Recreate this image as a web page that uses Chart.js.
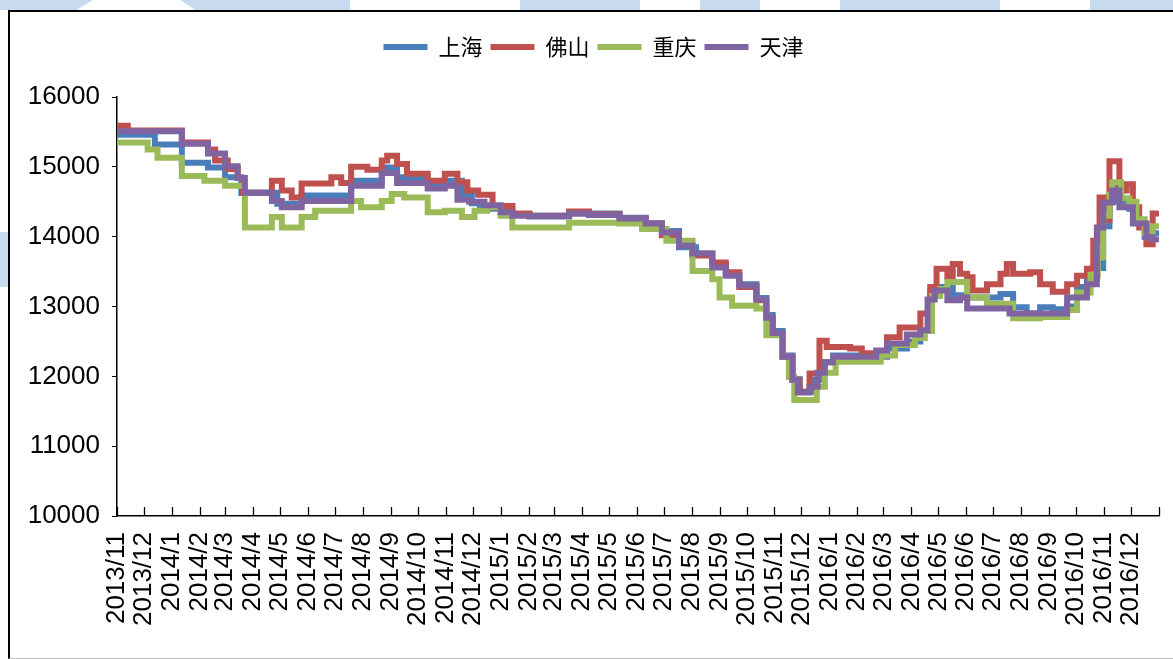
<!DOCTYPE html>
<html>
  <head>
    <meta charset="UTF-8">
    <style>
      body { margin: 0; background: #fff; }
      #page { position: relative; width: 1173px; height: 659px; overflow: hidden; background: #fff; }
      .wm { position: absolute; background: #c8daf0; }
      #frame { position: absolute; left: 8px; top: 10px; width: 1180px; height: 646px;
               border-left: 2px solid #000; border-top: 2px solid #000; border-bottom: 1px solid #bbb; background: #fff; }
      #wrap { position: absolute; left: 0; top: 0; width: 1173px; height: 659px; }
    </style>
  </head>
  <body>
    <div id="page">
      <div class="wm" style="left:0;top:0;width:93px;height:10px;clip-path:polygon(0 0,100% 0,82% 100%,0 100%)"></div>
      <div class="wm" style="left:180px;top:0;width:170px;height:10px;clip-path:polygon(0 0,100% 0,100% 100%,9% 100%)"></div>
      <div class="wm" style="left:520px;top:0;width:120px;height:10px"></div>
      <div class="wm" style="left:700px;top:0;width:60px;height:10px"></div>
      <div class="wm" style="left:840px;top:0;width:160px;height:10px"></div>
      <div class="wm" style="left:1090px;top:0;width:83px;height:10px"></div>
      <div class="wm" style="left:0;top:232px;width:10px;height:55px"></div>
      <div id="frame"></div>
      <div id="wrap"><canvas id="chart"></canvas></div>
    </div>

    <script src="https://cdn.jsdelivr.net/npm/chart.js@4.4.0/dist/chart.umd.min.js"></script>
    <script type="text/javascript">

      // 月份刻度
      const monthLabels = [
        '2013/11','2013/12',
        '2014/1','2014/2','2014/3','2014/4','2014/5','2014/6','2014/7','2014/8','2014/9','2014/10','2014/11','2014/12',
        '2015/1','2015/2','2015/3','2015/4','2015/5','2015/6','2015/7','2015/8','2015/9','2015/10','2015/11','2015/12',
        '2016/1','2016/2','2016/3','2016/4','2016/5','2016/6','2016/7','2016/8','2016/9','2016/10','2016/11','2016/12'
      ];
      const axisEnd = '2017/1';

      const seriesNames = ['上海', '佛山', '重庆', '天津'];

      // 上海
      const shanghaiDates = ['2013-11-01','2013-12-13','2014-01-12','2014-02-10','2014-03-01','2014-03-19','2014-04-28','2014-05-25','2014-07-19','2014-08-22','2014-09-08','2014-10-12','2014-10-31','2014-11-19','2014-11-30','2014-12-09','2014-12-23','2015-01-14','2015-02-02','2015-03-18','2015-05-13','2015-06-11','2015-06-29','2015-07-18','2015-08-06','2015-08-24','2015-09-08','2015-09-23','2015-10-12','2015-10-23','2015-10-30','2015-11-10','2015-11-21','2015-11-29','2015-12-13','2015-12-23','2016-01-05','2016-02-22','2016-03-05','2016-03-27','2016-04-11','2016-04-22','2016-05-03','2016-05-17','2016-06-02','2016-07-09','2016-07-23','2016-08-07','2016-08-22','2016-09-05','2016-09-21','2016-10-02','2016-10-13','2016-10-24','2016-10-31','2016-11-07','2016-11-12','2016-11-20','2016-11-29','2016-12-07','2016-12-16','2016-12-25','2016-12-30'];
      const shanghaiPrices = [15460,15320,15060,14990,14850,14630,14470,14590,14800,14990,14850,14750,14800,14600,14480,14440,14400,14320,14290,14330,14270,14190,14080,13850,13760,13600,13450,13320,13120,12880,12650,12300,11960,11780,11950,12200,12300,12280,12400,12500,12650,13200,13280,13160,13130,13180,12990,12900,12990,12960,13000,13280,13400,13550,14150,14500,14700,14500,14400,14200,14000,14050,14050];

      // 佛山
      const foshanDates = ['2013-11-01','2013-11-13','2014-01-12','2014-02-10','2014-02-18','2014-03-04','2014-03-15','2014-03-20','2014-04-22','2014-05-03','2014-05-14','2014-05-25','2014-06-27','2014-07-08','2014-07-19','2014-08-06','2014-08-22','2014-08-28','2014-09-08','2014-09-19','2014-10-12','2014-10-31','2014-11-14','2014-11-25','2014-12-07','2014-12-23','2015-01-14','2015-02-02','2015-03-18','2015-04-09','2015-05-13','2015-06-11','2015-06-29','2015-07-18','2015-08-02','2015-08-24','2015-09-08','2015-09-23','2015-10-12','2015-10-23','2015-10-30','2015-11-10','2015-11-21','2015-11-29','2015-12-10','2015-12-21','2015-12-29','2016-01-24','2016-02-06','2016-02-20','2016-03-05','2016-03-19','2016-04-11','2016-04-22','2016-04-29','2016-05-11','2016-05-17','2016-05-25','2016-06-02','2016-06-08','2016-06-24','2016-07-09','2016-07-16','2016-07-23','2016-08-11','2016-08-22','2016-09-05','2016-09-21','2016-10-02','2016-10-13','2016-10-20','2016-10-27','2016-11-04','2016-11-07','2016-11-18','2016-11-26','2016-12-03','2016-12-10','2016-12-18','2016-12-25','2016-12-30'];
      const foshanPrices = [15590,15520,15350,15250,15090,14970,14840,14630,14800,14660,14560,14760,14850,14770,15000,14960,15090,15160,15040,14900,14800,14900,14780,14660,14600,14440,14330,14300,14360,14320,14260,14190,14020,13880,13730,13630,13490,13280,13090,12830,12610,12280,11950,11780,12040,12510,12420,12400,12330,12300,12560,12700,12900,13280,13540,13420,13610,13470,13420,13230,13320,13470,13610,13470,13490,13320,13210,13320,13440,13540,13940,14560,14240,15080,14660,14750,14420,14130,13890,14330,14330];

      // 重庆
      const chongqingDates = ['2013-11-01','2013-12-05','2013-12-16','2014-01-12','2014-02-06','2014-03-01','2014-03-23','2014-04-22','2014-05-03','2014-05-25','2014-06-09','2014-07-19','2014-07-30','2014-08-22','2014-09-02','2014-09-16','2014-10-12','2014-10-31','2014-11-19','2014-12-03','2014-12-17','2015-01-01','2015-01-14','2015-03-18','2015-05-13','2015-06-07','2015-07-04','2015-08-02','2015-08-24','2015-09-01','2015-09-15','2015-10-12','2015-10-23','2015-11-10','2015-11-17','2015-11-23','2015-12-18','2015-12-27','2016-01-08','2016-02-27','2016-03-14','2016-04-05','2016-04-16','2016-04-24','2016-05-03','2016-05-11','2016-06-02','2016-06-24','2016-07-23','2016-08-22','2016-09-21','2016-10-02','2016-10-17','2016-10-25','2016-10-31','2016-11-07','2016-11-10','2016-11-20','2016-11-29','2016-12-07','2016-12-16','2016-12-25','2016-12-30'];
      const chongqingPrices = [15350,15250,15130,14870,14800,14730,14130,14280,14130,14280,14370,14510,14420,14510,14610,14560,14350,14370,14280,14370,14420,14300,14130,14200,14190,14110,13940,13510,13390,13130,13010,12970,12590,12280,11990,11660,11850,12050,12210,12300,12450,12550,12650,13150,13250,13350,13130,13040,12830,12850,12950,13200,13450,13700,14300,14600,14780,14550,14500,14250,14050,14150,14150];

      // 天津
      const tianjinDates = ['2013-11-01','2014-01-12','2014-02-10','2014-03-01','2014-03-15','2014-03-23','2014-04-22','2014-05-03','2014-05-25','2014-07-19','2014-08-22','2014-09-08','2014-10-12','2014-10-31','2014-11-14','2014-11-27','2014-12-14','2015-01-01','2015-01-14','2015-03-18','2015-04-09','2015-05-13','2015-06-11','2015-06-29','2015-07-18','2015-08-02','2015-08-24','2015-09-08','2015-09-23','2015-10-12','2015-10-23','2015-10-30','2015-11-10','2015-11-21','2015-11-27','2015-12-10','2015-12-19','2015-12-27','2016-01-05','2016-02-22','2016-03-05','2016-03-27','2016-04-11','2016-04-19','2016-04-27','2016-05-11','2016-05-25','2016-06-02','2016-07-19','2016-09-21','2016-10-13','2016-10-24','2016-10-31','2016-11-10','2016-11-18','2016-12-03','2016-12-18','2016-12-25','2016-12-30'];
      const tianjinPrices = [15510,15330,15190,15010,14840,14630,14510,14420,14510,14730,14910,14770,14690,14730,14530,14500,14450,14350,14300,14330,14310,14260,14190,14060,13870,13760,13560,13440,13300,13100,12840,12620,12280,11950,11770,11850,12050,12200,12280,12370,12470,12600,12660,13100,13230,13090,13130,12970,12900,13130,13320,14130,14490,14660,14420,14190,13990,13960,13960];

      const colors = ['#4a7ebb', '#c0504d', '#9bbb59', '#8064a2'];

      const START = Date.UTC(2013, 10, 1);
      function dayOf(s) {
        const p = s.split(/[-\/]/).map(Number);
        return (Date.UTC(p[0], p[1] - 1, p[2] || 1) - START) / 864e5;
      }
      function points(dates, prices) {
        return dates.map((d, i) => ({x: dayOf(d), y: prices[i]}));
      }

      const tickValues = monthLabels.concat([axisEnd]).map(dayOf);

      const numFont = {family: '"Liberation Sans", Arial, sans-serif', size: 26};

      // x轴刻度线朝内
      const inwardTicks = {
        id: 'inwardTicks',
        afterDraw(chart) {
          const s = chart.scales.x;
          const ctx = chart.ctx;
          ctx.save();
          ctx.strokeStyle = '#000';
          ctx.lineWidth = 1.3;
          ctx.beginPath();
          s.ticks.forEach(t => {
            const px = Math.round(s.getPixelForValue(t.value)) + 0.5;
            ctx.moveTo(px, s.top);
            ctx.lineTo(px, s.top - 9);
          });
          ctx.stroke();
          ctx.restore();
        }
      };

      const series = [
        [shanghaiDates, shanghaiPrices, 3],
        [foshanDates, foshanPrices, 2],
        [chongqingDates, chongqingPrices, 1],
        [tianjinDates, tianjinPrices, 0]
      ];

      new Chart(document.getElementById('chart'), {
        type: 'line',
        data: {
          datasets: series.map((s, i) => ({
            label: seriesNames[i],
            data: points(s[0], s[1]),
            order: s[2],
            borderColor: colors[i],
            backgroundColor: colors[i],
            borderWidth: 6,
            borderCapStyle: 'round',
            stepped: true,
            pointRadius: 0,
            fill: false
          }))
        },
        plugins: [inwardTicks],
        options: {
          responsive: true,
          maintainAspectRatio: false,
          animation: false,
          events: [],
          layout: {padding: {left: 28, right: 14, top: 28, bottom: 0}},
          plugins: {
            legend: {
              position: 'top',
              labels: {
                usePointStyle: true,
                pointStyle: 'line',
                pointStyleWidth: 44,
                padding: 8,
                color: '#000',
                font: {family: '"Noto Sans CJK SC", sans-serif', size: 22},
                sort: (a, b) => a.datasetIndex - b.datasetIndex
              }
            },
            subtitle: {
              display: true,
              text: '',
              weight: 500,
              font: {size: 10},
              padding: {top: 0, bottom: 17}
            },
            tooltip: {enabled: false}
          },
          scales: {
            x: {
              type: 'linear',
              min: tickValues[0],
              max: tickValues[tickValues.length - 1],
              afterBuildTicks: (scale) => { scale.ticks = tickValues.map(v => ({value: v})); },
              afterFit: (scale) => { scale.height = 143; scale.paddingLeft = 0; scale.paddingRight = 0; },
              ticks: {
                autoSkip: false,
                minRotation: 90,
                maxRotation: 90,
                padding: 16,
                color: '#000',
                font: numFont,
                callback: (v, i) => monthLabels[i] || ''
              },
              grid: {display: false, drawTicks: false},
              border: {color: '#000', width: 1.5}
            },
            y: {
              min: 10000,
              max: 16000,
              afterFit: (scale) => { scale.width = 89; },
              ticks: {stepSize: 1000, padding: 12, color: '#000', font: numFont, callback: (v) => String(v)},
              grid: {drawOnChartArea: false, tickLength: 5, color: '#000', lineWidth: 1},
              border: {color: '#000', width: 1.5}
            }
          }
        }
      });

    </script>
  </body>
</html>
